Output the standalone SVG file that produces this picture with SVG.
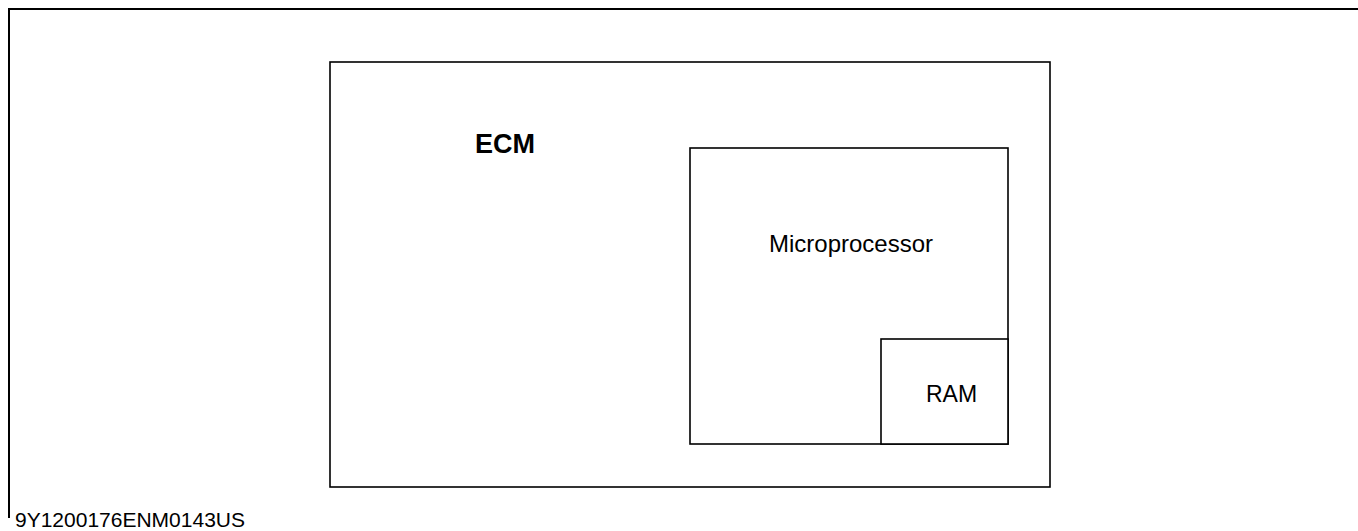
<svg xmlns="http://www.w3.org/2000/svg" width="1358" height="531" viewBox="0 0 1358 531">
<style>
.frame{fill:none;stroke:#000;stroke-width:2}
.box{fill:#fff;stroke:#000;stroke-width:1.6}
.t{font-family:"Liberation Sans",Arial,sans-serif;fill:#000}
</style>
<rect width="1358" height="531" fill="#fff"/>
<path class="frame" d="M9,518 V9 H1358"/>
<g id="ecm">
<rect class="box" x="330" y="62" width="720" height="425" stroke-width="2"/>
<text class="t" x="475" y="153" font-size="27" font-weight="bold">ECM</text>
</g>
<g id="microprocessor">
<rect class="box" x="690" y="148" width="318" height="296"/>
<text class="t" x="769" y="252" font-size="24">Microprocessor</text>
</g>
<g id="ram">
<rect class="box" x="881" y="339" width="127" height="105"/>
<text class="t" x="926" y="402" font-size="23">RAM</text>
</g>
<g id="connectors"/>
<text class="t" x="15" y="527" font-size="21">9Y1200176ENM0143US</text>
</svg>
